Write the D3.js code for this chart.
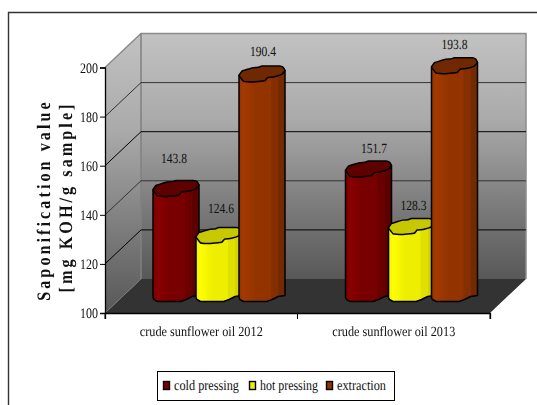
<!DOCTYPE html>
<html><head><meta charset="utf-8">
<script src="https://cdnjs.cloudflare.com/ajax/libs/d3/7.8.5/d3.min.js"></script>
<style>html,body{margin:0;padding:0;background:#fff}svg{display:block;filter:blur(.3px)}text{font-family:"Liberation Serif",serif;fill:#111;text-rendering:geometricPrecision}</style>
</head><body><script>
const categories = ["crude sunflower oil 2012", "crude sunflower oil 2013"];
const seriesNames = ["cold pressing", "hot pressing", "extraction"];
const coldPressing = [143.8, 151.7];
const hotPressing = [124.6, 128.3];
const extraction = [190.4, 193.8];
const yTicks = [100, 120, 140, 160, 180, 200];

const seriesValues = [coldPressing, hotPressing, extraction];
const sideColors = [
  {light:"#8a0000", mid:"#780000", dark:"#5c0000", top:"#5e0000"},
  {light:"#ffff00", mid:"#eeee00", dark:"#d2d200", top:"#c8c800"},
  {light:"#a33a00", mid:"#933400", dark:"#742a00", top:"#702800"}
];
const labelShift = [[[-2,-30],[5.5,-21]],[[2,-28],[2,-22]],[[1,-23],[0,-22]]];

const W=537,H=405;
const svg=d3.select("body").append("svg").attr("width",W).attr("height",H);
const defs=svg.append("defs");
const depth={dx:36,dy:-34};
const y=d3.scaleLinear().domain([100,200]).range([313,67.5]);
const x0=d3.scaleBand().domain(categories).range([105,490]);
const x1=d3.scaleOrdinal().domain(seriesNames).range([48,91,134]);
const barW=46, topH=16;

svg.append("path").attr("d",`M8.5,${H}V12.5H${W}`).attr("fill","none").attr("stroke","#333").attr("stroke-width",1.4);

const wallGrad=defs.append("linearGradient").attr("id","wall").attr("x1",0).attr("y1",0).attr("x2",0).attr("y2",1);
wallGrad.append("stop").attr("offset",0).attr("stop-color","#c2c2c2");
wallGrad.append("stop").attr("offset",.35).attr("stop-color","#aaaaaa");
wallGrad.append("stop").attr("offset",.7).attr("stop-color","#7c7c7c");
wallGrad.append("stop").attr("offset",1).attr("stop-color","#585858");
sideColors.forEach((c,i)=>{
  const g=defs.append("linearGradient").attr("id","bar"+i);
  const between=d3.interpolateRgb(c.mid,c.dark)(.5);
  [[0,c.mid],[.1,c.light],[.35,c.mid],[.69,c.mid],[.7,between],[.85,between],[.86,c.dark],[1,c.dark]].forEach(s=>g.append("stop").attr("offset",s[0]).attr("stop-color",s[1]));
});

const L=x0.range()[0],R=x0.range()[1],T=y(200),B=y(100);
const wall=svg.append("g");
wall.append("path").attr("d",`M${L},${T}L${L+depth.dx},${T+depth.dy}V${B+depth.dy}L${L},${B}Z`).attr("fill","url(#wall)");
wall.append("rect").attr("x",L+depth.dx).attr("y",T+depth.dy).attr("width",R-L).attr("height",B-T).attr("fill","url(#wall)");
wall.append("path").attr("d",`M${L},${B}L${L+depth.dx},${B+depth.dy}H${R+depth.dx}L${R},${B}Z`).attr("fill","#333");
wall.append("path").attr("d",`M${L},${T}L${L+depth.dx},${T+depth.dy}H${R+depth.dx}V${B+depth.dy}`).attr("fill","none").attr("stroke","#8c8c8c").attr("stroke-width",1.5);
wall.append("path").attr("d",`M${L+depth.dx},${T+depth.dy}V${B+depth.dy}`).attr("fill","none").attr("stroke","#808080").attr("stroke-width",1.5);

yTicks.slice(1,-1).forEach((t,i)=>{
  svg.append("path").attr("d",`M${L},${y(t)}L${L+depth.dx},${y(t)+depth.dy}H${R+depth.dx}`).attr("fill","none").attr("stroke",i%2?"#333":"#000").attr("stroke-width",1);
});
svg.append("path").attr("d",`M${L+depth.dx},${B+depth.dy}L${L},${B}`).attr("stroke","#777").attr("stroke-width",1);

const topOutline=[[0,.58],[.07,.3],[.3,.1],[.42,.08],[.5,0],[.88,0],[.96,.08],[1,.28],[.93,.52],[.75,.68],[.62,.72],[.56,.92],[.27,1],[.1,.96]];
const baseOutline=[[1,-6],[.85,-5],[.72,-2],[.6,0],[.1,0],[.02,-2],[0,-4]];
const line=d3.line().curve(d3.curveLinear);
const outlineLine=d3.line().curve(d3.curveCardinalClosed.tension(.8));
const midBase=y(100)+depth.dy/2;
[0,1].forEach(ci=>{
  [0,1,2].forEach(si=>{
    const v=seriesValues[si][ci];
    const xl=x0(categories[ci])+x1(seriesNames[si]);
    const cy=y(v)+depth.dy/2;
    const top=cy-topH/2;
    const bBase=midBase+5.5;
    const pts=[[xl,top+.58*topH],[xl+barW,top+.28*topH]].concat(baseOutline.map(p=>[xl+p[0]*barW,bBase+p[1]]));
    svg.append("path").attr("d",line(pts)+"Z").attr("fill",`url(#bar${si})`).attr("stroke","#000").attr("stroke-width",1.5).attr("stroke-linejoin","round");
    svg.append("path").attr("d",outlineLine(topOutline.map(p=>[xl+p[0]*barW,top+p[1]*topH]))).attr("fill",sideColors[si].top).attr("stroke","#000").attr("stroke-width",1.5).attr("stroke-linejoin","round");
  });
});

seriesValues.forEach((vals,si)=>vals.forEach((v,ci)=>{
  const s=labelShift[si][ci];
  svg.append("text").attr("x",x0(categories[ci])+x1(seriesNames[si])+barW/2+s[0])
    .attr("y",y(v)+depth.dy/2+s[1]+5).attr("text-anchor","middle").attr("font-size",14)
    .attr("textLength",26).attr("lengthAdjust","spacingAndGlyphs").text(v.toFixed(1));
}));

const yAxis=d3.axisLeft(y).tickValues(yTicks).tickSize(5).tickPadding(2);
const gy=svg.append("g").attr("transform",`translate(${L},0)`).call(yAxis);
gy.selectAll("text").attr("font-size",14.5).attr("font-family","Liberation Serif").attr("fill","#111")
  .attr("textLength",18).attr("lengthAdjust","spacingAndGlyphs");
gy.select(".domain").attr("stroke","#000").attr("stroke-width",1.3);
gy.selectAll("line").attr("stroke","#000");
const xAxis=d3.axisBottom(x0).tickSize(6).tickSizeOuter(6).tickPadding(6);
const gx=svg.append("g").attr("transform",`translate(0,${B})`).call(xAxis);
gx.select(".domain").attr("stroke","#000").attr("stroke-width",1.3);
gx.selectAll(".tick line").attr("display","none");
[L,(L+R)/2,R].forEach(t=>gx.append("line").attr("x1",t).attr("x2",t).attr("y1",0).attr("y2",6).attr("stroke","#000"));
gx.selectAll(".tick text").attr("font-size",14).attr("font-family","Liberation Serif").attr("fill","#111").attr("y",13)
  .attr("textLength",123).attr("lengthAdjust","spacingAndGlyphs");

const title=svg.append("g").attr("font-weight","bold").attr("font-size",19).attr("text-anchor","middle");
title.append("text").attr("transform","translate(50,200) rotate(-90) scale(.85,1)").attr("letter-spacing",3.6).text("Saponification value");
title.append("text").attr("transform","translate(72,197) rotate(-90) scale(.85,1)").attr("letter-spacing",3.6).text("[mg KOH/g sample]");

const lg=svg.append("g");
lg.append("rect").attr("x",157.5).attr("y",371.5).attr("width",237).attr("height",29).attr("fill","#fff").attr("stroke","#000").attr("stroke-width",1);
const legendX=d3.scaleOrdinal().domain(seriesNames).range([163,249,326]);
const legendLen=[65,58,49];
seriesNames.forEach((n,i)=>{
  const lx=legendX(n);
  lg.append("rect").attr("x",lx+.5).attr("y",381.5).attr("width",6).attr("height",8).attr("fill",sideColors[i].mid).attr("stroke","#000").attr("stroke-width",1.4);
  lg.append("text").attr("x",lx+11).attr("y",390).attr("font-size",14.5).attr("textLength",legendLen[i]).attr("lengthAdjust","spacingAndGlyphs").text(n);
});
</script></body></html>
